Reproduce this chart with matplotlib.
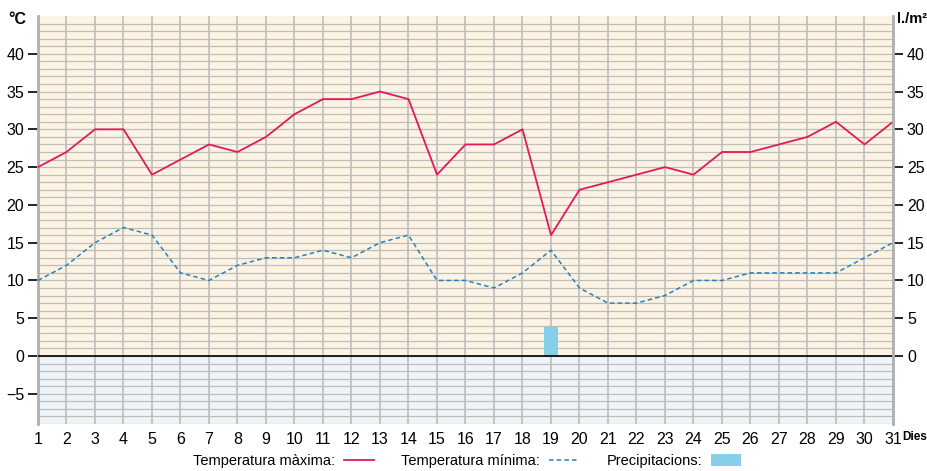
import matplotlib.pyplot as plt
from matplotlib.patches import Rectangle
from matplotlib.lines import Line2D

# dades del mes
days = list(range(1, 32))
t_max = [25, 27, 30, 30, 24, 26, 28, 27, 29, 32, 34, 34, 35, 34, 24, 28,
         28, 30, 16, 22, 23, 24, 25, 24, 27, 27, 28, 29, 31, 28, 31]
t_min = [10, 12, 15, 17, 16, 11, 10, 12, 13, 13, 14, 13, 15, 16, 10, 10,
         9, 11, 14, 9, 7, 7, 8, 10, 10, 11, 11, 11, 11, 13, 15]
rain_days = [19]
rain_vals = [3.8]
left_ticks = [-5, 0, 5, 10, 15, 20, 25, 30, 35, 40]
right_ticks = [0, 5, 10, 15, 20, 25, 30, 35, 40]

plt.rcParams["font.family"] = ["Liberation Sans", "DejaVu Sans"]
plt.rcParams["axes.unicode_minus"] = True

fig = plt.figure(figsize=(9.28, 4.71), dpi=100)
ax = fig.add_axes([38 / 928, 1 - 424 / 471, 855 / 928, 408 / 471])
ax.set_xlim(1, 31)
ax.set_ylim(-9, 45)

# fons: crema sobre zero, blau clar sota zero
ax.add_patch(Rectangle((1, 0), 30, 45, facecolor="#fdf3e2", edgecolor="none", zorder=0))
ax.add_patch(Rectangle((1, -9), 30, 9, facecolor="#eef5f9", edgecolor="none", zorder=0))

# graella
for y in range(-9, 45):
    ax.axhline(y, color="#bdbdbd", lw=0.9, zorder=1)
for d in days:
    ax.axvline(d, color="#bdbdbd", lw=1.2, zorder=1)
ax.axhline(0, color="black", lw=1.2, zorder=3)

ax.bar(rain_days, rain_vals, width=0.5, color="#87ceeb", zorder=2)
ax.plot(days, t_max, color="#e2195a", lw=1.3, zorder=4)
ax.plot(days, t_min, color="#2a7fbf", lw=1.1, ls=(0, (3, 2)), zorder=4)

for s in ["top", "right", "bottom"]:
    ax.spines[s].set_visible(False)
ax.spines["left"].set_color("#b0b0b0")
ax.spines["left"].set_linewidth(2)

ax.set_yticks(left_ticks)
ax.set_yticklabels([f"−{-v}" if v < 0 else str(v) for v in left_ticks])
ax.tick_params(axis="y", direction="out", length=7, width=1.2, color="black",
               labelsize=11.5, pad=3)
ax.set_xticks(days)
ax.tick_params(axis="x", length=0, labelsize=11.5, pad=6)

ax2 = ax.twinx()
ax2.set_ylim(ax.get_ylim())
ax2.set_yticks(right_ticks)
for s in ["top", "left", "bottom"]:
    ax2.spines[s].set_visible(False)
ax2.spines["right"].set_color("#b0b0b0")
ax2.spines["right"].set_linewidth(2)
ax2.tick_params(axis="y", direction="out", length=7, width=1.2, color="black",
                labelsize=11.5, pad=3)

fig.text(8 / 928, 1 - 19 / 471, "°C", fontsize=11.5, fontweight="bold", va="center")
fig.text(897 / 928, 1 - 19 / 471, "l./m²", fontsize=10.5, fontweight="bold", va="center")
fig.text(927 / 928, 1 - 437 / 471, "Dies", fontsize=8.5, fontweight="bold",
         va="center", ha="right")

handles = [
    Line2D([], [], color="#e2195a", lw=1.3),
    Line2D([], [], color="#2a7fbf", lw=1.1, ls=(0, (3, 2))),
    Rectangle((0, 0), 1, 1, facecolor="#87ceeb"),
]
labels = ["Temperatura màxima:", "Temperatura mínima:", "Precipitacions:"]
fig.legend(handles, labels, loc="center", bbox_to_anchor=(467 / 928, 1 - 461 / 471),
           ncol=3, frameon=False, markerfirst=False, fontsize=10.5,
           columnspacing=1.9, handlelength=2.05, handletextpad=0.6,
           handleheight=0.95)

fig.savefig("out.png", dpi=100)
